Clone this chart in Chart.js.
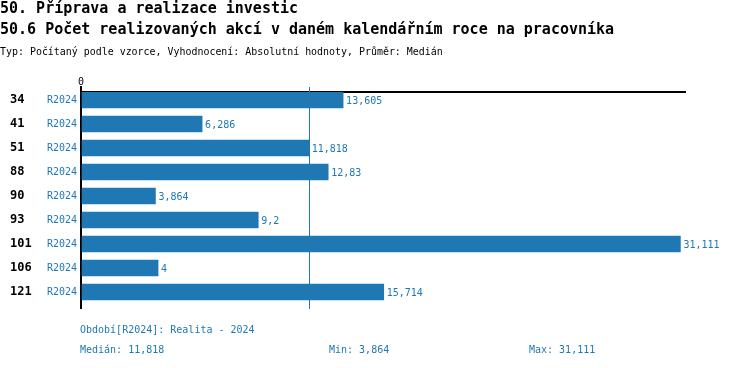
<!DOCTYPE html>
<html>
<head>
<meta charset="utf-8">
<script src="https://cdn.jsdelivr.net/npm/chart.js@4/dist/chart.umd.min.js"></script>
<style>
  html, body { margin: 0; padding: 0; background: #fff; }
  #wrap { position: relative; width: 750px; height: 368px; overflow: hidden; font-family: "DejaVu Sans Mono", "Liberation Mono", monospace; }
  #wrap canvas { position: absolute; left: 0; top: 0; }
  .t { position: absolute; white-space: pre; left: 0; }
  .t1 { font-weight: bold; font-size: 15px; line-height: 17px; color: #000; }
  .t3 { font-size: 9.95px; line-height: 12px; color: #000; }
  .f { position: absolute; white-space: pre; font-size: 10px; line-height: 12px; color: #1f77b4; }
</style>
</head>
<body>
<div id="wrap">
  <canvas id="c" width="750" height="368"></canvas>
  <div class="t t1" style="top:0px">50. Příprava a realizace investic</div>
  <div class="t t1" style="top:21px">50.6 Počet realizovaných akcí v daném kalendářním roce na pracovníka</div>
  <div class="t t3" style="top:46px">Typ: Počítaný podle vzorce, Vyhodnocení: Absolutní hodnoty, Průměr: Medián</div>
  <div class="f" id="fPeriod" style="left:80px;top:324px"></div>
  <div class="f" id="fMed" style="left:80px;top:344px"></div>
  <div class="f" id="fMin" style="left:329px;top:344px"></div>
  <div class="f" id="fMax" style="left:529px;top:344px"></div>
</div>
<script>
// ---- data ----
const codes = ['34', '41', '51', '88', '90', '93', '101', '106', '121'];
const periods = ['R2024', 'R2024', 'R2024', 'R2024', 'R2024', 'R2024', 'R2024', 'R2024', 'R2024'];
const values = [13.605, 6.286, 11.818, 12.83, 3.864, 9.2, 31.111, 4, 15.714];
const periodLegend = 'Období[R2024]: Realita - 2024';
const medianValue = 11.818;
const minValue = 3.864;
const maxValue = 31.111;
const xTickLabels = ['0'];

const BLUE = '#1f77b4';
const FONT = '"DejaVu Sans Mono", "Liberation Mono", monospace';
const fmt = v => String(v).replace('.', ',');

document.getElementById('fPeriod').textContent = periodLegend;
document.getElementById('fMed').textContent = 'Medián: ' + fmt(medianValue);
document.getElementById('fMin').textContent = 'Min: ' + fmt(minValue);
document.getElementById('fMax').textContent = 'Max: ' + fmt(maxValue);

const points = values.map((v, i) => ({ x: v, y: i }));

const extras = {
  id: 'extras',
  beforeDatasetsDraw(chart) {
    const ctx = chart.ctx;
    const xs = chart.scales.x;
    const area = chart.chartArea;
    ctx.save();
    const mx = Math.round(xs.getPixelForValue(medianValue)) + 0.5;
    ctx.strokeStyle = BLUE;
    ctx.lineWidth = 1;
    ctx.beginPath();
    ctx.moveTo(mx, area.top - 5);
    ctx.lineTo(mx, area.bottom + 1);
    ctx.stroke();
    ctx.restore();
  },
  afterDatasetsDraw(chart) {
    const ctx = chart.ctx;
    ctx.save();
    ctx.fillStyle = BLUE;
    ctx.font = '10px ' + FONT;
    ctx.textBaseline = 'middle';
    ctx.textAlign = 'left';
    const meta = chart.getDatasetMeta(0);
    meta.data.forEach((bar, i) => {
      ctx.fillText(fmt(values[i]), bar.x + 3, bar.y + 1);
    });
    ctx.restore();
  }
};

const yBase = {
  type: 'linear',
  position: 'left',
  reverse: true,
  offset: false,
  min: -1 / 3,
  max: 26 / 3,
  afterBuildTicks: s => { s.ticks = codes.map((_, i) => ({ value: i })); }
};

new Chart(document.getElementById('c'), {
  type: 'bar',
  data: {
    datasets: [{
      data: points,
      backgroundColor: BLUE,
      borderWidth: 0,
      barThickness: 16
    }]
  },
  options: {
    indexAxis: 'y',
    responsive: false,
    animation: false,
    events: [],
    layout: { padding: { left: 10, right: 65, top: 0, bottom: 60 } },
    plugins: { legend: { display: false }, tooltip: { enabled: false }, title: { display: false } },
    scales: {
      x: {
        type: 'linear',
        position: 'top',
        min: 0,
        max: 31.35,
        afterBuildTicks: s => { s.ticks = xTickLabels.map(t => ({ value: Number(t) })); },
        afterFit: s => { s.height = 92; },
        grid: { drawOnChartArea: false, tickLength: 6, color: '#000', lineWidth: 2 },
        border: { display: true, color: '#000', width: 2 },
        ticks: { color: '#000', font: { family: FONT, size: 10 }, padding: -2, callback: (v) => String(v) }
      },
      yCat: Object.assign({}, yBase, {
        axis: 'y',
        weight: 0,
        afterFit: s => { s.width = 36; },
        grid: { display: false, drawTicks: false, offset: false },
        border: { display: true, color: '#000', width: 2 },
        ticks: { color: BLUE, font: { family: FONT, size: 10 }, padding: 4, autoSkip: false,
                 callback: (v) => periods[v] }
      }),
      y: Object.assign({}, yBase, {
        weight: 1,
        afterFit: s => { s.width = 35; },
        grid: { display: false, drawTicks: false, offset: false },
        border: { display: false },
        ticks: { color: '#000', font: { family: FONT, size: 12, weight: 'bold' }, padding: 0, crossAlign: 'far', autoSkip: false,
                 callback: (v) => codes[v] }
      })
    }
  },
  plugins: [extras]
});
</script>
</body>
</html>
